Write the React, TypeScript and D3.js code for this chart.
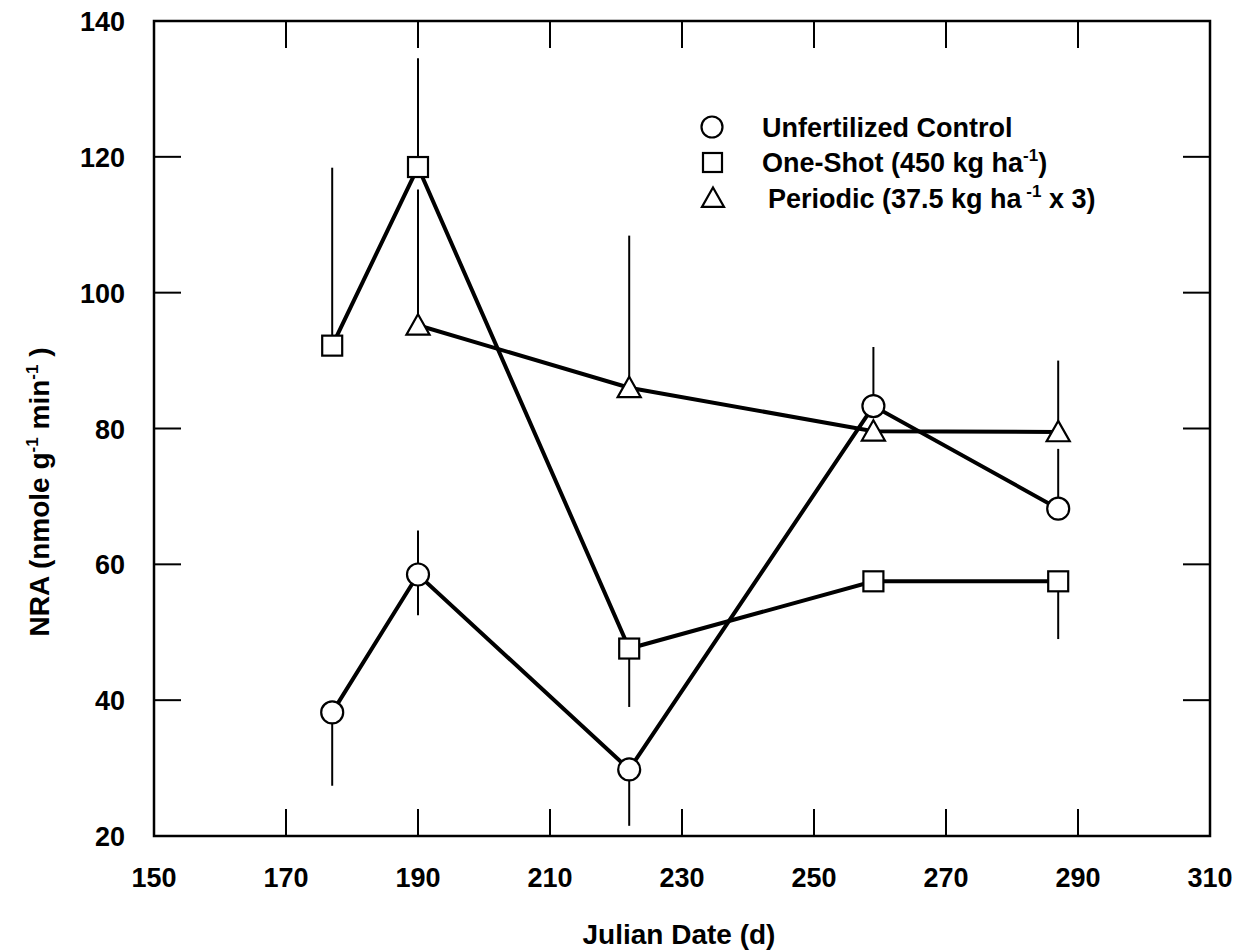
import React from "react";
import * as d3 from "d3";

const days = [177, 190, 222, 259, 287];
const controlValues = [38.2, 58.5, 29.8, 83.3, 68.2];
const controlUpper = [null, 65, null, 92, 77];
const controlLower = [27.4, 52.5, 21.5, null, null];

const oneShotValues = [92.2, 118.5, 47.6, 57.5, 57.5];
const oneShotUpper = [118.4, 134.5, null, null, null];
const oneShotLower = [null, null, 39, null, 49];

const periodicDays = [190, 222, 259, 287];
const periodicValues = [95.2, 86.0, 79.6, 79.5];
const periodicUpper = [115.2, 108.4, null, 90];
const periodicLower = [null, null, null, null];

const xTicks = [150, 170, 190, 210, 230, 250, 270, 290, 310];
const yTicks = [20, 40, 60, 80, 100, 120, 140];

const W = 1238, H = 951;
const L = 154, R = 1210, T = 21, B = 836;
const FONT = "'Liberation Sans', Arial, Helvetica, sans-serif";
const FS = 27;

export default function App() {
  const x = d3.scaleLinear().domain([150, 310]).range([L, R]);
  const y = d3.scaleLinear().domain([20, 140]).range([B, T]);
  const line = d3.line<[number, number]>().x(d => x(d[0])).y(d => y(d[1]));

  const ctrl = days.map((d, i) => [d, controlValues[i]] as [number, number]);
  const one = days.map((d, i) => [d, oneShotValues[i]] as [number, number]);
  const per = periodicDays.map((d, i) => [d, periodicValues[i]] as [number, number]);

  const bars = (xs: number[], vals: number[], up: (number | null)[], lo: (number | null)[]) =>
    xs.flatMap((d, i) => {
      const out: React.ReactElement[] = [];
      if (up[i] != null) out.push(<line key={"u" + d} x1={x(d)} x2={x(d)} y1={y(vals[i])} y2={y(up[i] as number)} stroke="#000" strokeWidth={2} />);
      if (lo[i] != null) out.push(<line key={"l" + d} x1={x(d)} x2={x(d)} y1={y(vals[i])} y2={y(lo[i] as number)} stroke="#000" strokeWidth={2} />);
      return out;
    });

  const tri = (cx: number, cy: number, s = 11) =>
    `M${cx},${cy - s} L${cx + s * 1.05},${cy + s * 0.85} L${cx - s * 1.05},${cy + s * 0.85} Z`;

  const tickLen = 27;
  return (
    <svg width={W} height={H} style={{ position: "absolute", left: 0, top: 0, background: "#fff" }} fontFamily={FONT}>
      <rect x={0} y={0} width={W} height={H} fill="#fff" />
      <rect x={L} y={T} width={R - L} height={B - T} fill="none" stroke="#000" strokeWidth={2.5} />
      {xTicks.slice(1, -1).map(t => (
        <g key={"xt" + t}>
          <line x1={x(t)} x2={x(t)} y1={B} y2={B - tickLen} stroke="#000" strokeWidth={2} />
          <line x1={x(t)} x2={x(t)} y1={T} y2={T + tickLen} stroke="#000" strokeWidth={2} />
        </g>
      ))}
      {yTicks.slice(1, -1).map(t => (
        <g key={"yt" + t}>
          <line x1={L} x2={L + tickLen} y1={y(t)} y2={y(t)} stroke="#000" strokeWidth={2} />
          <line x1={R} x2={R - tickLen} y1={y(t)} y2={y(t)} stroke="#000" strokeWidth={2} />
        </g>
      ))}
      {xTicks.map(t => (
        <text key={"xl" + t} x={x(t)} y={887} textAnchor="middle" fontSize={FS} fontWeight="bold">{t}</text>
      ))}
      {yTicks.map(t => (
        <text key={"yl" + t} x={125} y={y(t) + 10} textAnchor="end" fontSize={FS} fontWeight="bold">{t}</text>
      ))}
      <text x={679} y={944} textAnchor="middle" fontSize={28} fontWeight="bold">Julian Date (d)</text>
      <text transform={`translate(49,${492}) rotate(-90)`} textAnchor="middle" fontSize={28} fontWeight="bold">
        NRA (nmole g<tspan dy={-11} fontSize={17}>-1</tspan><tspan dy={11}> min</tspan><tspan dy={-11} fontSize={17}>-1</tspan><tspan dy={11}> )</tspan>
      </text>

      {bars(days, controlValues, controlUpper, controlLower)}
      {bars(days, oneShotValues, oneShotUpper, oneShotLower)}
      {bars(periodicDays, periodicValues, periodicUpper, periodicLower)}

      <path d={line(per) || ""} fill="none" stroke="#000" strokeWidth={4} />
      <path d={line(one) || ""} fill="none" stroke="#000" strokeWidth={4} />
      <path d={line(ctrl) || ""} fill="none" stroke="#000" strokeWidth={4} />

      {per.map(p => <path key={"pt" + p[0]} d={tri(x(p[0]), y(p[1]))} fill="#fff" stroke="#000" strokeWidth={2.2} />)}
      {one.map(p => <rect key={"os" + p[0]} x={x(p[0]) - 10} y={y(p[1]) - 10} width={20} height={20} fill="#fff" stroke="#000" strokeWidth={2.2} />)}
      {ctrl.map(p => <circle key={"cc" + p[0]} cx={x(p[0])} cy={y(p[1])} r={11} fill="#fff" stroke="#000" strokeWidth={2.2} />)}

      <circle cx={712} cy={127} r={10.5} fill="#fff" stroke="#000" strokeWidth={2.2} />
      <text x={762} y={137} fontSize={FS} fontWeight="bold">Unfertilized Control</text>
      <rect x={703} y={153} width={19} height={19} fill="#fff" stroke="#000" strokeWidth={2.2} />
      <text x={762} y={172} fontSize={FS} fontWeight="bold">One-Shot (450 kg ha<tspan dy={-11} fontSize={17}>-1</tspan><tspan dy={11}>)</tspan></text>
      <path d={tri(713, 198, 10.5)} fill="#fff" stroke="#000" strokeWidth={2.2} />
      <text x={768} y={208} fontSize={FS} fontWeight="bold">Periodic (37.5 kg ha<tspan dy={-11} fontSize={17}>{"\u00a0"}-1</tspan><tspan dy={11}> x 3)</tspan></text>
    </svg>
  );
}
